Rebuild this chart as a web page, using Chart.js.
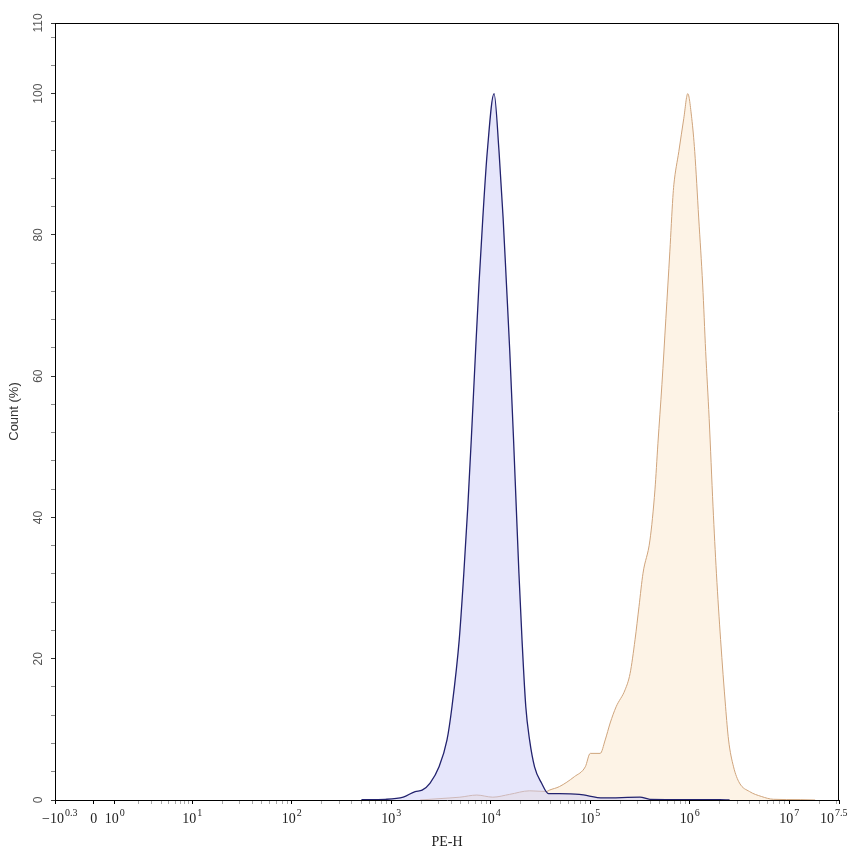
<!DOCTYPE html>
<html>
<head>
<meta charset="utf-8">
<script src="https://cdn.jsdelivr.net/npm/chart.js@4.4.1/dist/chart.umd.min.js"></script>
<style>
  html, body { margin: 0; padding: 0; background: #fff; }
  #wrap { width: 853px; height: 856px; position: relative; }
</style>
</head>
<body>
<div id="wrap"><canvas id="histo"></canvas></div>
<script>
// PE-H histogram, x in display decades (log10 of intensity), y in Count (%)
const blueX = [2.70, 2.94, 3.12, 3.24, 3.31, 3.39, 3.48, 3.56, 3.61, 3.683, 3.729, 3.769, 3.804, 3.847, 3.881, 3.920, 3.965, 4.033,
               4.083, 4.124, 4.158, 4.191, 4.229, 4.256, 4.283, 4.314, 4.352, 4.39, 4.44, 4.51, 4.58, 4.69, 4.89, 5.13, 5.50, 5.60, 6.30, 6.40];
const blueY = [0.05, 0.1, 0.4, 1.2, 1.4, 2.4, 4.7, 8.5, 13.2, 22.7, 32.1, 41.5, 51.0, 63.5, 72.9, 82.4, 91.8, 100,
               91.8, 82.4, 72.9, 63.5, 51.0, 41.5, 32.1, 22.7, 13.2, 8.5, 4.7, 2.4, 0.9, 0.9, 0.8, 0.3, 0.4, 0.1, 0.05, 0];

const orangeX = [3.29, 3.49, 3.69, 3.86, 4.02, 4.19, 4.39, 4.56, 4.59, 4.69, 4.84, 4.95, 5.00, 5.10, 5.15, 5.20, 5.26, 5.35, 5.40,
                 5.45, 5.49, 5.53, 5.60, 5.65, 5.68, 5.72, 5.76, 5.80, 5.83, 5.84, 5.89, 5.94, 5.98,
                 6.02, 6.05, 6.09, 6.13, 6.16, 6.195, 6.234, 6.268, 6.31, 6.36, 6.39, 6.44, 6.50, 6.60, 6.72, 6.84, 7.11, 7.26];
const orangeY = [0, 0.2, 0.4, 0.7, 0.4, 0.8, 1.3, 1.2, 1.4, 1.9, 3.3, 4.7, 6.6, 6.6, 8.5, 10.9, 13.2, 15.6, 17.9,
                 22.7, 27.4, 32.1, 36.8, 43.9, 50.5, 58.8, 68.2, 77.7, 85.3, 87.1, 91.8, 96.5, 100,
                 96.5, 91.8, 82.4, 72.9, 63.5, 54.0, 41.5, 32.1, 22.7, 13.2, 8.5, 4.7, 2.4, 1.2, 0.5, 0.1, 0.05, 0];

// x axis: tick positions (display decades) and their labels as base + exponent
const xTickPos  = [-0.38, 0.01, 0.22, 1.0, 2.0, 3.0, 4.0, 5.0, 6.0, 7.0, 7.5];
const xTickBase = ['\u221210', '0', '10', '10', '10', '10', '10', '10', '10', '10', '10'];
const xTickExp  = ['0.3', '', '0', '1', '2', '3', '4', '5', '6', '7', '7.5'];

// y axis: minor ticks every 4, labels at these values
const yTickLabels = [0, 20, 40, 60, 80, 100, 110];
const yMinorStep = 4;

const X_MIN = -0.38, X_MAX = 7.5, Y_MAX = 110;

// minor log ticks between decades
function minorTicks() {
    const out = [];
    for (let k = 2; k <= 9; k++) out.push(0.22 + 0.78 * Math.log10(k));
    for (let d = 1; d <= 7; d++) {
        for (let k = 2; k <= 9; k++) {
            const p = d + Math.log10(k);
            if (p < X_MAX) out.push(p);
        }
    }
    return out;
}

const labelPlugin = {
    id: 'labels',
    afterDraw(chart) {
        const ctx = chart.ctx;
        const area = chart.chartArea;
        const xs = chart.scales.x;
        const ys = chart.scales.y;
        ctx.save();

        // frame top and right
        ctx.strokeStyle = '#000';
        ctx.lineWidth = 1;
        ctx.beginPath();
        ctx.moveTo(Math.round(area.left) + 0.5, Math.round(area.top) + 0.5);
        ctx.lineTo(Math.round(area.right) - 0.5, Math.round(area.top) + 0.5);
        ctx.lineTo(Math.round(area.right) - 0.5, Math.round(area.bottom));
        ctx.stroke();

        // y labels, rotated
        ctx.fillStyle = '#555';
        ctx.font = '12px "Liberation Sans", Arial, sans-serif';
        ctx.textAlign = 'center';
        ctx.textBaseline = 'middle';
        yTickLabels.forEach(v => {
            const y = ys.getPixelForValue(v);
            ctx.save();
            ctx.translate(39, y);
            ctx.rotate(-Math.PI / 2);
            ctx.fillText(String(v), 0, 0);
            ctx.restore();
        });

        // x labels with superscripts
        const baseFont = '14px "Liberation Serif", "Times New Roman", serif';
        const expFont = '10px "Liberation Serif", "Times New Roman", serif';
        ctx.fillStyle = '#222';
        ctx.textAlign = 'left';
        ctx.textBaseline = 'alphabetic';
        xTickPos.forEach((p, i) => {
            const x = xs.getPixelForValue(p);
            ctx.font = baseFont;
            const bw = ctx.measureText(xTickBase[i]).width;
            ctx.font = expFont;
            const ew = xTickExp[i] ? ctx.measureText(xTickExp[i]).width + 1 : 0;
            let start = x - (bw + ew) / 2;
            if (i === 0) start = x - 13;
            if (i === xTickPos.length - 1) start = x - 19;
            ctx.font = baseFont;
            ctx.fillText(xTickBase[i], start, 823);
            if (xTickExp[i]) {
                ctx.font = expFont;
                ctx.fillText(xTickExp[i], start + bw + 1, 816);
            }
        });
        ctx.restore();
    }
};

const blueData = blueX.map((x, i) => ({ x: x, y: blueY[i] }));
const orangeData = orangeX.map((x, i) => ({ x: x, y: orangeY[i] }));

new Chart(document.getElementById('histo'), {
    type: 'line',
    data: {
        datasets: [{
            label: 'Sample',
            data: blueData,
            borderColor: '#22226e',
            backgroundColor: 'rgba(205, 205, 248, 0.5)',
            borderWidth: 1.3,
            fill: 'origin',
            pointRadius: 0,
            cubicInterpolationMode: 'monotone'
        }, {
            label: 'Stained',
            data: orangeData,
            borderColor: '#cfa47c',
            backgroundColor: 'rgba(252, 234, 210, 0.55)',
            borderWidth: 1,
            fill: 'origin',
            pointRadius: 0,
            cubicInterpolationMode: 'monotone'
        }]
    },
    options: {
        responsive: true,
        maintainAspectRatio: false,
        animation: false,
        layout: { padding: { top: 23, right: 14, left: 0, bottom: 0 } },
        plugins: {
            legend: { display: false },
            tooltip: { enabled: false }
        },
        scales: {
            x: {
                type: 'linear',
                min: X_MIN,
                max: X_MAX,
                afterBuildTicks: s => {
                    s.ticks = xTickPos.concat(minorTicks()).map(v => ({ value: v }));
                },
                afterFit: s => { s.height = 56; },
                ticks: { display: false },
                grid: {
                    display: true,
                    drawOnChartArea: false,
                    drawTicks: true,
                    tickLength: 4,
                    tickColor: c => (c.tick && xTickPos.includes(c.tick.value)) ? '#000' : '#aaa'
                },
                border: { display: true, color: '#000', width: 1 },
                title: {
                    display: true,
                    text: 'PE-H',
                    color: '#222',
                    font: { family: '"Liberation Serif", "Times New Roman", serif', size: 14 },
                    padding: { top: 0, bottom: 5 }
                }
            },
            y: {
                type: 'linear',
                min: 0,
                max: Y_MAX,
                afterBuildTicks: s => {
                    const t = [];
                    for (let v = 0; v < Y_MAX; v += yMinorStep) t.push(v);
                    t.push(Y_MAX);
                    s.ticks = t.map(v => ({ value: v }));
                },
                afterFit: s => { s.width = 55; },
                ticks: { display: false },
                grid: {
                    display: true,
                    drawOnChartArea: false,
                    drawTicks: true,
                    tickLength: 4,
                    tickColor: c => (c.tick && yTickLabels.includes(c.tick.value)) ? '#333' : '#888'
                },
                border: { display: true, color: '#000', width: 1 },
                title: {
                    display: true,
                    text: 'Count (%)',
                    color: '#333',
                    font: { family: '"Liberation Sans", Arial, sans-serif', size: 13 },
                    padding: { top: 7, bottom: 0 }
                }
            }
        }
    },
    plugins: [labelPlugin]
});
</script>
</body>
</html>
